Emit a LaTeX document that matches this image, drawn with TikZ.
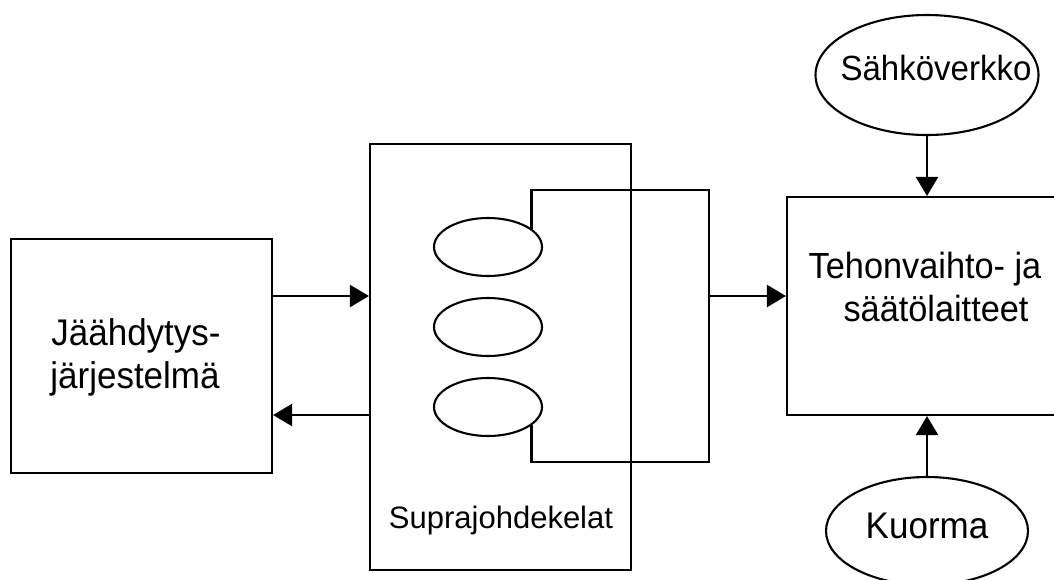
\documentclass[tikz,border=0pt]{standalone}
\usepackage{fontspec}
\setmainfont{Liberation Sans}
\usetikzlibrary{arrows.meta,shapes.geometric}
\newcommand{\tall}[1]{\scalebox{1}[1.06]{#1}}
\begin{document}
\begin{tikzpicture}[x=1pt,y=-1pt,
  line width=2.1pt,
  box/.style={draw,rectangle,inner sep=0pt},
  oval/.style={draw,ellipse,inner sep=0pt},
  lbl/.style={inner sep=0pt,anchor=base,font=\fontsize{34.3}{38}\selectfont},
  arr/.style={-{Triangle[length=19pt,width=22pt]}}]
\clip (0,0) rectangle (1054,579);
\fill[white] (0,0) rectangle (1054,579);
% blocks
\node[box,minimum width=261pt,minimum height=234pt] (cool) at (141.5,356) {};
\node[box,minimum width=261pt,minimum height=426pt] (supra) at (500.5,357) {};
\node[box,minimum width=280pt,minimum height=218pt] (ctrl) at (927,306) {};
\node[oval,minimum width=108pt,minimum height=58pt] (e1) at (488,247) {};
\node[oval,minimum width=108pt,minimum height=58pt] (e2) at (488,327) {};
\node[oval,minimum width=108pt,minimum height=58pt] (e3) at (488,407) {};
\node[oval,minimum width=223pt,minimum height=120pt] (grid) at (927,75) {};
\node[oval,minimum width=202pt,minimum height=108pt] (load) at (927,531) {};
% texts
\node[lbl,font=\fontsize{35}{38}\selectfont] (t1) at (136,345) {\tall{Jäähdytys-}};
\node[lbl,font=\fontsize{35}{38}\selectfont] (t2) at (135,388) {\tall{järjestelmä}};
\node[lbl,font=\fontsize{31}{36}\selectfont] (t3) at (501,528) {Suprajohdekelat};
\node[lbl] (t4) at (925,278) {\tall{Tehonvaihto- ja}};
\node[lbl] (t5) at (936,321) {\tall{säätölaitteet}};
\node[lbl,font=\fontsize{33}{36}\selectfont] (t6) at (936,80) {\tall{Sähköverkko}};
\node[lbl,font=\fontsize{35}{38}\selectfont] (t7) at (927,538) {\tall{Kuorma}};
% connectors
\draw[arr] ([yshift=60pt]cool.east) -- ([yshift=60pt]cool.east -| supra.west);
\draw[arr] ([yshift=-59pt]cool.east -| supra.west) -- ([yshift=-59pt]cool.east);
\coordinate (lt) at (709,190);
\coordinate (lb) at (709,462);
\coordinate (lm) at (709,296);
\draw (e1.23) -- (e1.23 |- lt) -- (lt) -- (lb) -- (lb -| e3.-23) -- (e3.-23);
\draw[arr] (lm) -- (lm -| ctrl.west);
\draw[arr] (grid.south) -- (ctrl.north);
\draw[arr] (load.north) -- (ctrl.south);
\end{tikzpicture}
\end{document}
